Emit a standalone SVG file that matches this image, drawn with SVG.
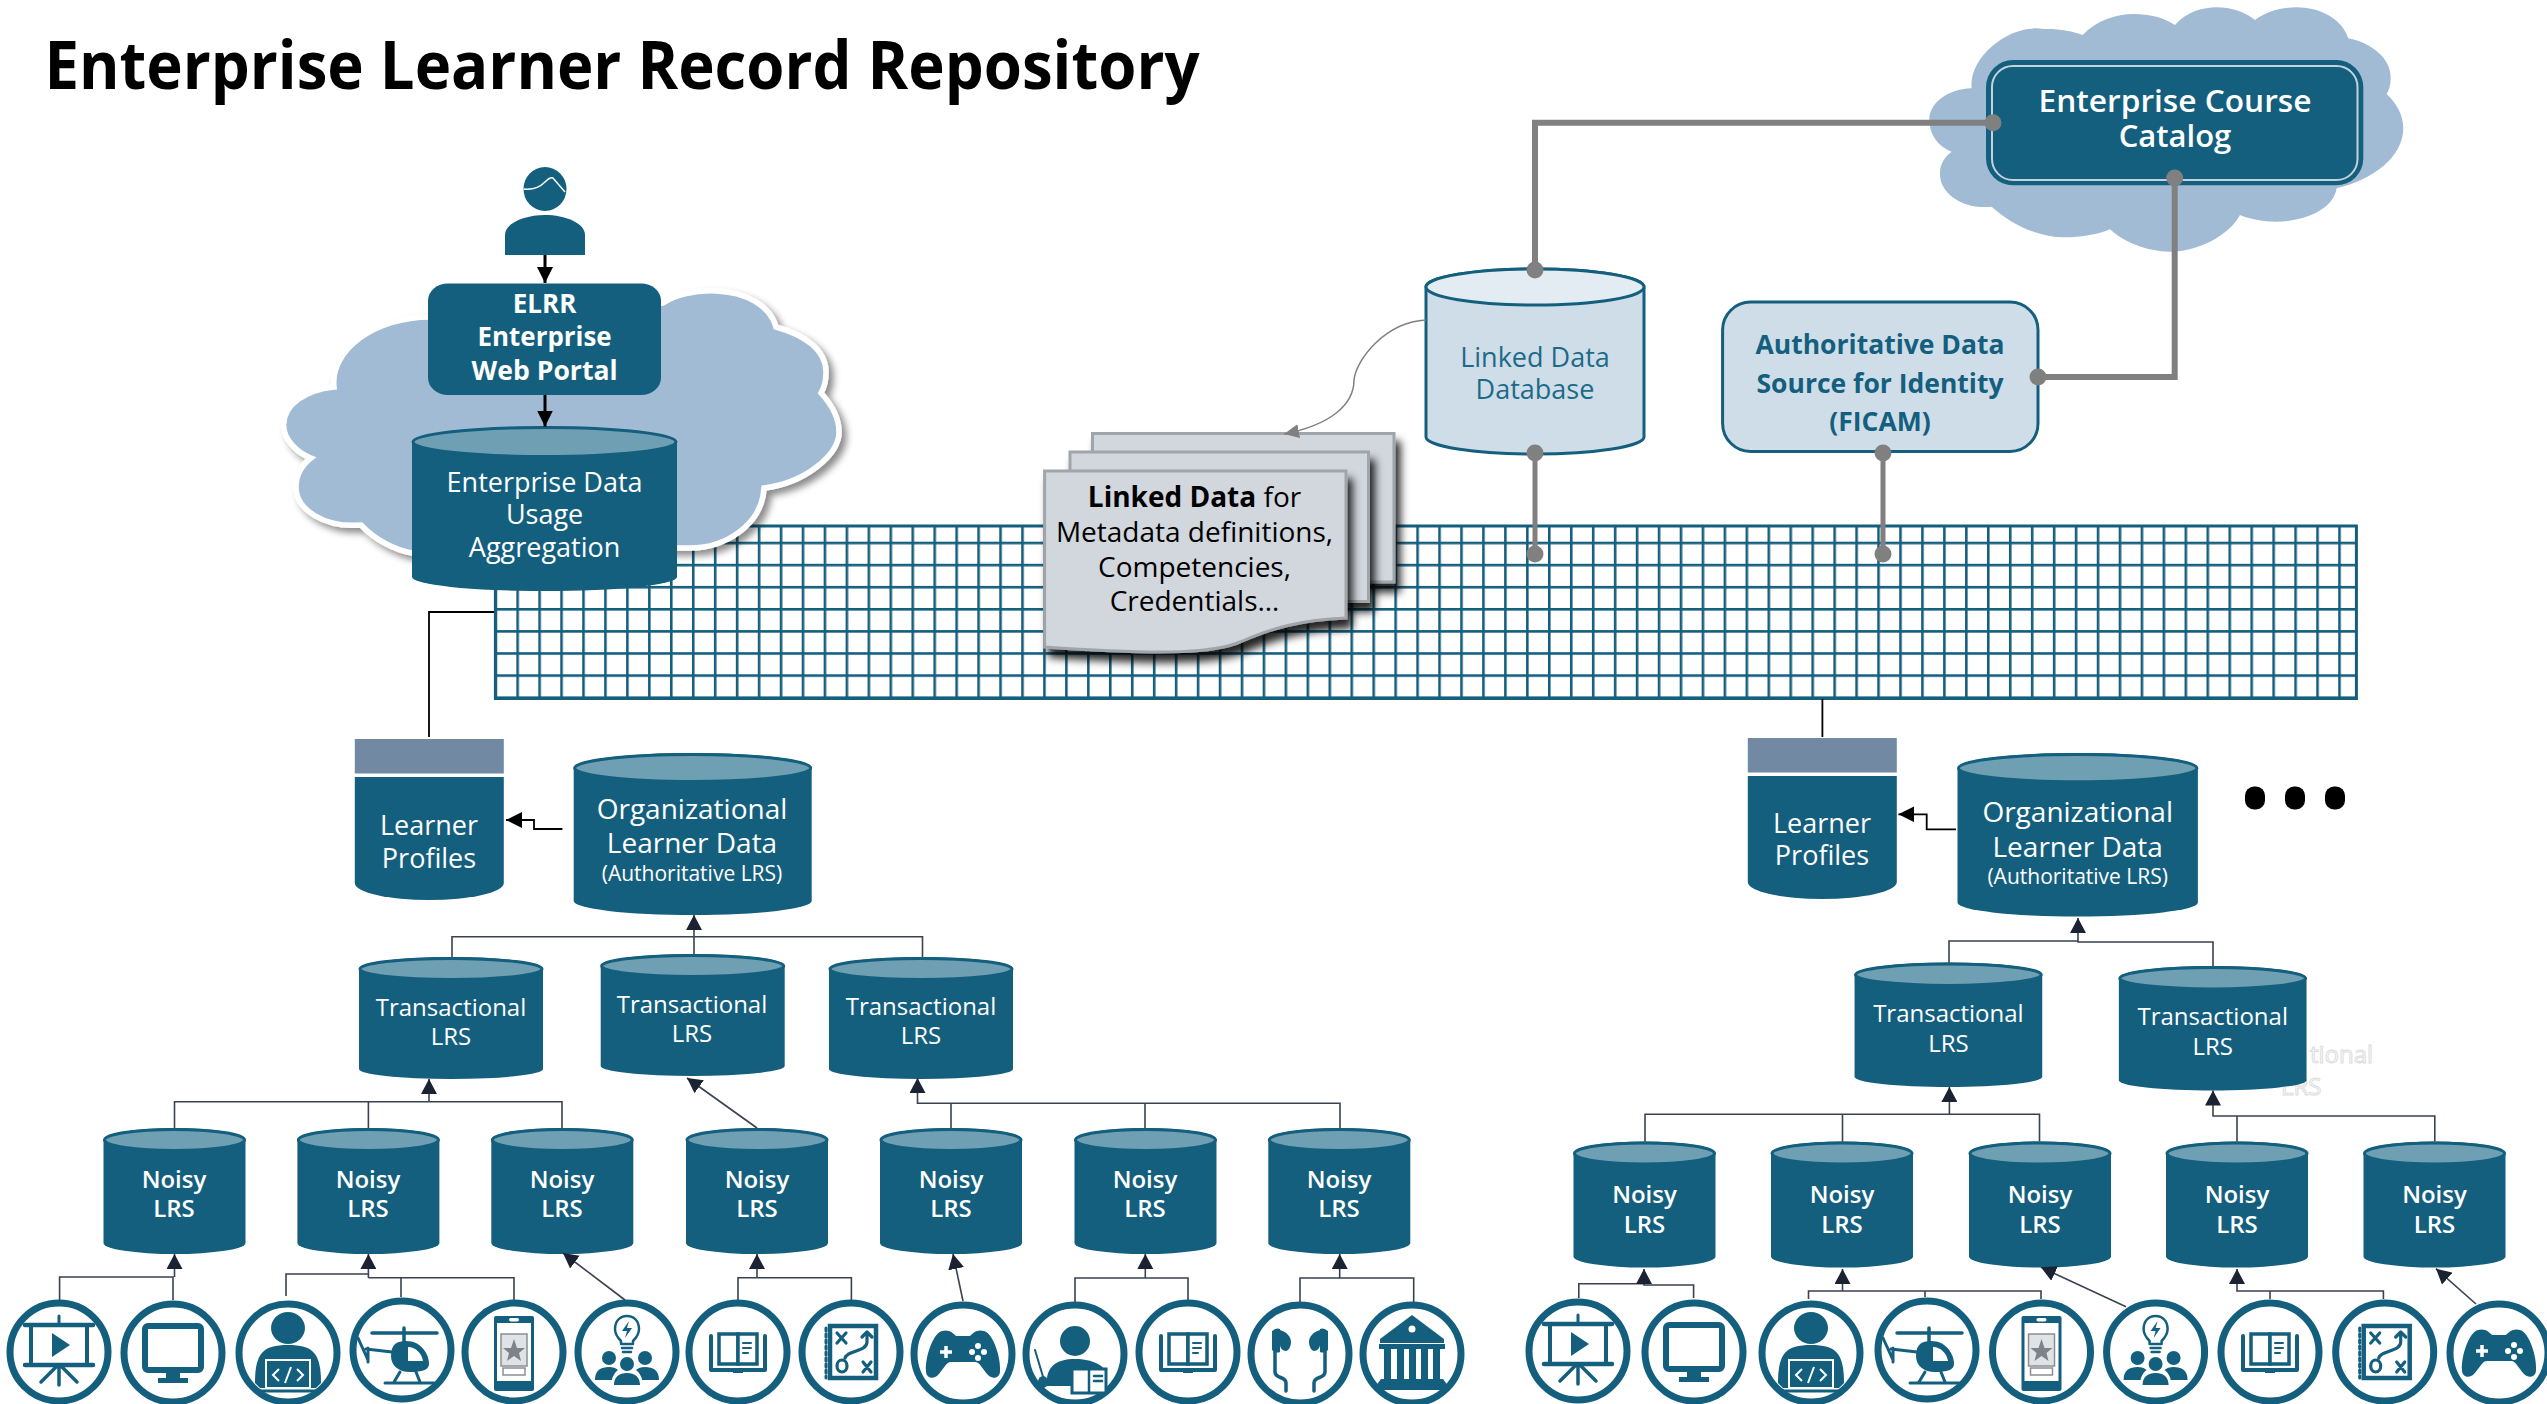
<svg xmlns="http://www.w3.org/2000/svg" xmlns:xlink="http://www.w3.org/1999/xlink" width="2547" height="1404" viewBox="0 0 2547 1404">
<style>
text{font-family:"Open Sans","Noto Sans","Liberation Sans",sans-serif;text-anchor:middle}
.w{fill:#fff}.f24{font-size:24px}.f27{font-size:27px}.f28{font-size:28px}.f21{font-size:21px}
.sb{font-weight:600}.b{font-weight:700}
.dk{fill:#145f7e}.top{fill:#6f9fb3;stroke:#145f7e;stroke-width:3}
.th{fill:none;stroke:#3a4250;stroke-width:1.6}
.bk{fill:none;stroke:#000;stroke-width:1.8}
.bk3{fill:none;stroke:#000;stroke-width:3}
.gr{fill:none;stroke:#808080;stroke-width:6}
.gr5{fill:none;stroke:#808080;stroke-width:5}
.dot{fill:#808080}
.ring{fill:#fff;stroke:#145f7e;stroke-width:7}
.is{fill:none;stroke:#145f7e;stroke-linecap:round;stroke-linejoin:round}
.page{fill:#d2d6dd;stroke:#a0a5a9;stroke-width:3}
.ghost{font-size:24px;text-anchor:start;fill:#fff;stroke:#dcdcdc;stroke-width:1}
</style>
<defs>
<filter id="sh1" x="-5%" y="-5%" width="112%" height="115%"><feDropShadow dx="5" dy="5" stdDeviation="3.5" flood-color="#000" flood-opacity=".45"/></filter>
<filter id="sh2" x="-10%" y="-10%" width="125%" height="130%"><feDropShadow dx="5" dy="9" stdDeviation="4" flood-color="#000" flood-opacity=".85"/></filter>
<pattern id="gridp" patternUnits="userSpaceOnUse" x="494.4" y="541.7" width="21.95" height="22.1"><rect width="2.6" height="22.1" fill="#155f7e"/><rect width="21.95" height="2.6" fill="#155f7e"/></pattern>
<marker id="ah" viewBox="0 0 15 16" refX="15" refY="8" markerWidth="15" markerHeight="16" markerUnits="userSpaceOnUse" orient="auto"><path d="M0 0L15 8L0 16Z" fill="#1a2233"/></marker>
<marker id="ahb" viewBox="0 0 16 16" refX="16" refY="8" markerWidth="16" markerHeight="16" markerUnits="userSpaceOnUse" orient="auto"><path d="M0 0L16 8L0 16Z" fill="#000"/></marker>
<marker id="ahg" viewBox="0 0 15 14" refX="15" refY="7" markerWidth="15" markerHeight="14" markerUnits="userSpaceOnUse" orient="auto"><path d="M0 0L15 7L0 14Z" fill="#808080"/></marker>
<path id="cloudp" d="M215 265C205 170 330 70 430 87C470 85 520 93 548 105C590 60 650 42 700 42C760 42 800 58 825 75C860 35 910 22 950 22C1000 22 1040 40 1065 60C1105 30 1150 22 1190 22C1270 22 1330 65 1345 115C1420 130 1475 180 1472 235C1472 255 1468 270 1460 282C1490 310 1510 345 1510 385C1510 470 1420 540 1310 565C1300 630 1210 665 1130 665C1085 665 1050 657 1020 645C985 710 890 755 810 755C740 755 670 725 630 688C590 705 540 712 495 712C410 712 330 670 275 620C190 630 118 580 120 520C120 490 135 470 155 455C115 440 88 405 88 360C88 310 140 268 215 265Z"/>
<g id="cylN"><path class="dk" d="M-71 12A71 12 0 0 1 71 12V115A71 11 0 0 1-71 115Z"/><ellipse class="top" cx="0" cy="12" rx="70" ry="10.5"/></g>
<g id="cylT"><path class="dk" d="M-92 12A92 12 0 0 1 92 12V112A92 10 0 0 1-92 112Z"/><ellipse class="top" cx="0" cy="12" rx="91" ry="10.5"/></g>
<g id="cylO"><path class="dk" d="M-119 15A119 15 0 0 1 119 15V148A119 14 0 0 1-119 148Z"/><ellipse class="top" cx="0" cy="15" rx="118" ry="13.5"/></g>
<g id="prof"><rect x="-74.5" y="0" width="149" height="34.5" fill="#7289a3"/><path class="dk" d="M-74.5 38H74.5V144A74.5 17 0 0 1-74.5 144Z"/></g>
<circle id="ring" class="ring" cx="0" cy="0" r="49"/>
<g id="i-present"><use xlink:href="#ring"/><path class="is" stroke-width="3" d="M0-36V-28"/><path class="is" stroke-width="4.5" d="M-34-27H34M-34 13H34"/><path class="is" stroke-width="4" d="M-28-27V13M28-27V13"/><path class="dk" d="M-7-19L11-7L-7 5Z"/><path class="is" stroke-width="3.5" d="M0 14V33M-2 14L-18 30M2 14L18 30"/></g>
<g id="i-monitor"><use xlink:href="#ring"/><rect x="-28" y="-27" width="56" height="44" rx="3" class="is" stroke-width="6"/><rect x="-7" y="18" width="14" height="9" class="dk"/><rect x="-15" y="25" width="30" height="5" class="dk"/></g>
<g id="i-coder"><use xlink:href="#ring"/><ellipse class="dk" cx="0" cy="-25" rx="17" ry="16"/><path class="dk" d="M-33 30C-33 0-25-8 0-8C25-8 33 0 33 30L28 35H-28Z"/><rect x="-22" y="7" width="44" height="28" class="dk" stroke="#fff" stroke-width="2"/><path d="M-9 16L-15 22L-9 28M9 16L15 22L9 28M3 14L-3 30" fill="none" stroke="#fff" stroke-width="2"/><path class="is" stroke-width="3" d="M-30 38H30"/></g>
<g id="i-heli"><use xlink:href="#ring"/><path class="is" stroke-width="3.5" d="M-30-17H35M2-22V-8"/><path class="dk" d="M-11 6C-11-6-5-9 4-9C20-9 27 5 27 14C27 20 20 22 8 22C-3 22-11 16-11 6Z"/><path d="M6-3C14-3 20 4 21 11H6Z" fill="#fff"/><path class="is" stroke-width="3" d="M-10 2L-36-1M-44-12L-34 10M-34-2V12M-2 22L-8 32M14 22L18 32M-17 33H32"/></g>
<g id="i-phone"><use xlink:href="#ring"/><rect x="-20" y="-36" width="40" height="75" rx="2" class="dk"/><rect x="-17" y="-29" width="34" height="58" fill="#fff"/><rect x="-5" y="-34" width="10" height="3.5" rx="1.7" fill="#fff"/><rect x="-13" y="-18" width="26" height="32" fill="#dfe3e6" stroke="#8a8f94" stroke-width="1.5"/><path fill="#7d8388" d="M0-13L3-4L11-4L5 1L7 9L0 4L-7 9L-5 1L-11-4L-3-4Z"/><rect x="-11" y="16" width="22" height="7" fill="#fff" stroke="#8a8f94" stroke-width="1.5"/></g>
<g id="i-idea"><use xlink:href="#ring"/><path class="is" stroke-width="2.5" d="M-6-11C-10-15-12-19-12-23C-12-31-7-36 0-36C7-36 12-31 12-23C12-19 10-15 6-11V-8H-6Z"/><path class="dk" d="M2-31L-5-21H0L-2-14L5-24H0Z"/><path class="is" stroke-width="2.5" d="M-5-4H5M-4 0H4"/><circle class="dk" cx="-18" cy="6" r="7"/><circle class="dk" cx="18" cy="6" r="7"/><circle class="dk" cx="0" cy="12" r="7"/><path class="dk" d="M-32 28C-32 18-26 15-18 15C-14 15-11 16-9 18C-13 21-15 26-15 28ZM32 28C32 18 26 15 18 15C14 15 11 16 9 18C13 21 15 26 15 28ZM-13 33C-13 25-8 21 0 21C8 21 13 25 13 33Z"/></g>
<g id="i-book"><use xlink:href="#ring"/><path class="is" stroke-width="4" d="M-27-16V18H27V-16"/><path class="dk" d="M-5 18H5V21H-5Z"/><rect x="-19" y="-18" width="19" height="30" fill="#fff" stroke="#145f7e" stroke-width="3.5"/><rect x="0" y="-18" width="19" height="30" fill="#fff" stroke="#145f7e" stroke-width="3.5"/><path class="is" stroke-width="2" d="M5-9H13M5-4H13M5 1H10"/></g>
<g id="i-play"><use xlink:href="#ring"/><rect x="-21" y="-26" width="46" height="52" fill="#fff" stroke="#145f7e" stroke-width="4.5"/><path class="is" stroke-width="3" stroke-dasharray="3 3" d="M-25-24V26"/><path class="is" stroke-width="3.2" d="M-14-19L-5-9M-5-19L-14-9M12 20L20 10M12 10L20 20M16-10V-20M11-15L16-20L21-15M16-10C16 0-4-2-6 6"/><ellipse class="is" stroke-width="3.2" cx="-9" cy="14" rx="5" ry="6"/></g>
<g id="i-game"><use xlink:href="#ring"/><path class="dk" d="M-21-23C-14-25-10-21-7-18H7C10-21 14-25 21-23C31-20 38 5 37 17C37 24 30 26 25 21C20 16 17 8 12 8H-12C-17 8-20 16-25 21C-30 26-37 24-37 17C-38 5-31-20-21-23Z"/><path d="M-17-8V4M-23-2H-11" stroke="#fff" stroke-width="3.5" fill="none"/><g fill="#fff"><circle cx="15" cy="-8" r="3"/><circle cx="15" cy="4" r="3"/><circle cx="9" cy="-2" r="3"/><circle cx="21" cy="-2" r="3"/></g></g>
<g id="i-teach"><use xlink:href="#ring"/><ellipse class="dk" cx="0" cy="-13" rx="15" ry="15"/><path class="dk" d="M-28 32C-30 12-18 5 0 5C18 5 30 12 32 20V32Z"/><path class="is" stroke-width="2" d="M-40-4L-31 26"/><ellipse class="dk" cx="-32" cy="28" rx="5" ry="6"/><rect x="-3" y="15" width="34" height="24" fill="#fff" stroke="#145f7e" stroke-width="3"/><path class="is" stroke-width="2.5" d="M14 15V39M19 22H27M19 27H27"/></g>
<g id="i-phones"><use xlink:href="#ring"/><path class="dk" d="M-28-23C-24-26-22-26-20-25V-2C-22-1-24-1-28-4ZM-20-24C-13-22-9-17-9-12C-9-7-12-3-14-3C-17-3-20-6-20-9ZM28-23C24-26 22-26 20-25V-2C22-1 24-1 28-4ZM20-24C13-22 9-17 9-12C9-7 12-3 14-3C17-3 20-6 20-9Z"/><path class="is" stroke-width="3.5" d="M-25-3V18C-25 25-14 22-14 29V37M25-3V18C25 25 14 22 14 29V37"/></g>
<g id="i-bank"><use xlink:href="#ring"/><path class="dk" d="M0-39L32-15V-11H-32V-15Z"/><circle cx="0" cy="-25" r="3.5" fill="#fff"/><rect x="-33" y="-10" width="66" height="5" class="dk"/><g class="dk"><rect x="-28" y="-5" width="7" height="30"/><rect x="-15" y="-5" width="7" height="30"/><rect x="-3" y="-5" width="7" height="30"/><rect x="9" y="-5" width="7" height="30"/><rect x="21" y="-5" width="7" height="30"/></g><path class="dk" d="M-31 25H31L37 33V36H-37V33Z"/></g>
</defs>

<rect width="2547" height="1404" fill="#fff"/>
<text id="title" x="622" y="89" font-size="66" class="b" textLength="1155" lengthAdjust="spacingAndGlyphs">Enterprise Learner Record Repository</text>

<g id="backbone-grid">
<rect x="494.4" y="526" width="1862.6" height="172.5" fill="#fff"/>
<rect x="494.4" y="526" width="1862.6" height="172.5" fill="url(#gridp)"/>
<rect x="495.4" y="526" width="1861" height="172.5" fill="none" stroke="#155f7e" stroke-width="3"/>
</g>

<g id="cloud-left" filter="url(#sh1)"><path fill="#a2bbd4" stroke="#fff" stroke-width="5.5" d="M334 387C330 350 375 317 430 317L663 303C675 295 695 290 716 291C745 292 770 305 776 327C805 335 826 350 826 372C826 380 824 388 821 393C832 405 839 418 839 432C839 455 805 483 764 488C762 525 725 548 690 548C640 548 450 540 412 553C395 550 375 540 361 525C325 528 296 510 296 487C296 475 302 465 311 458C295 452 283.6 438 283.6 425C283.6 405 305 390 334 387Z"/></g>
<g id="cloud-right"><use xlink:href="#cloudp" transform="translate(1900 0) scale(.3333)" fill="#a2bbd4"/></g>

<g id="user"><ellipse class="dk" cx="545" cy="189" rx="21.5" ry="22"/><path d="M523.6 189C532 190 540 187 545 182C548 179 551 177 553 178L565 192" fill="none" stroke="#fff" stroke-width="1.5"/><path class="dk" d="M505 255V235C505 223 525 215 545 215C565 215 585 223 585 235V255Z"/></g>
<g id="web-portal"><rect class="dk" x="428" y="283.5" width="233" height="111.5" rx="20" ry="17"/>
<text class="w b" x="544.6" y="313" font-size="26">ELRR</text><text class="w b" x="544.6" y="346" font-size="26" textLength="134" lengthAdjust="spacingAndGlyphs">Enterprise</text><text class="w b" x="544.6" y="380" font-size="26" textLength="146" lengthAdjust="spacingAndGlyphs">Web Portal</text></g>
<g id="usage-aggregation"><path class="dk" d="M412 442A132.5 15.5 0 0 1 677 442V577A132.5 14 0 0 1 412 577Z"/><ellipse class="top" cx="544.5" cy="442" rx="131.5" ry="14.5"/>
<text class="w f27" x="544.6" y="491.5">Enterprise Data</text><text class="w f27" x="544.6" y="524">Usage</text><text class="w f27" x="544.6" y="557">Aggregation</text></g>

<g id="linked-data-docs">
<g filter="url(#sh2)"><rect class="page" x="1092.5" y="433.5" width="301.5" height="148.5"/></g>
<g filter="url(#sh2)"><rect class="page" x="1070" y="452" width="298.5" height="149.5"/></g>
<g filter="url(#sh2)"><path class="page" d="M1044.6 471H1346V618C1300 620 1272 628 1240 642C1215 652 1175 656 1044.6 647Z"/></g>
<text x="1194.5" y="506.5" class="f28"><tspan class="b">Linked Data</tspan> for</text><text x="1194.5" y="541.5" class="f28">Metadata definitions,</text><text x="1194.5" y="577" class="f28">Competencies,</text><text x="1194.5" y="611" class="f28">Credentials…</text></g>

<g id="linked-data-db"><path d="M1426 287A109 18 0 0 1 1644 287V437A109 17 0 0 1 1426 437Z" fill="#cfdde9" stroke="#155f7e" stroke-width="3"/><ellipse cx="1535" cy="287" rx="109" ry="18" fill="#e3ebf3" stroke="#155f7e" stroke-width="3"/>
<text x="1535" y="367" class="f27" fill="#1c6a88">Linked Data</text><text x="1535" y="399" class="f27" fill="#1c6a88">Database</text></g>
<g id="ficam"><rect x="1722.6" y="302" width="315.4" height="149.5" rx="28" fill="#cfdde9" stroke="#155f7e" stroke-width="3"/>
<text x="1880" y="353.5" font-size="26.5" class="b" fill="#145f7e">Authoritative Data</text><text x="1880" y="393" font-size="26.5" class="b" fill="#145f7e">Source for Identity</text><text x="1880" y="431" font-size="26.5" class="b" fill="#145f7e">(FICAM)</text></g>
<g id="course-catalog"><rect class="dk" x="1986" y="60" width="377.3" height="125.3" rx="27"/><rect x="1992" y="66" width="365.5" height="114" rx="21" fill="none" stroke="#c3d2dd" stroke-width="2"/>
<text class="w sb" x="2175" y="112" font-size="31" textLength="273" lengthAdjust="spacingAndGlyphs">Enterprise Course</text><text class="w sb" x="2175" y="147" font-size="31">Catalog</text></g>

<text id="ghost-text" class="ghost" x="2310" y="1063">tional</text>
<text id="ghost-text-2" class="ghost" x="2281" y="1095">LRS</text>

<g id="profiles-left"><use xlink:href="#prof" transform="translate(429.3 739)"/><text class="w f27" x="429" y="835">Learner</text><text class="w f27" x="429" y="867.5">Profiles</text></g>
<g id="profiles-right"><use xlink:href="#prof" transform="translate(1822.3 738)"/><text class="w f27" x="1822" y="832.5">Learner</text><text class="w f27" x="1822" y="865">Profiles</text></g>
<g id="org-left"><use xlink:href="#cylO" transform="translate(692.7 753)"/><text class="w f28" x="692" y="819">Organizational</text><text class="w f28" x="692" y="853">Learner Data</text><text class="w f21" x="692" y="881">(Authoritative LRS)</text></g>
<g id="org-right"><use xlink:href="#cylO" transform="translate(2077.7 753) scale(1.01 1.01)"/><text class="w f28" x="2077.7" y="822">Organizational</text><text class="w f28" x="2077.7" y="857">Learner Data</text><text class="w f21" x="2077.7" y="884">(Authoritative LRS)</text></g>

<g id="trans-l1"><use xlink:href="#cylT" transform="translate(451 957)"/><text class="w f24" x="451" y="1016">Transactional</text><text class="w f24" x="451" y="1045">LRS</text></g>
<g id="trans-l2"><use xlink:href="#cylT" transform="translate(692.7 954)"/><text class="w f24" x="692" y="1012.5">Transactional</text><text class="w f24" x="692" y="1041.5">LRS</text></g>
<g id="trans-l3"><use xlink:href="#cylT" transform="translate(921 957)"/><text class="w f24" x="921" y="1015">Transactional</text><text class="w f24" x="921" y="1044">LRS</text></g>
<g id="trans-r1"><use xlink:href="#cylT" transform="translate(1948.4 962.5) scale(1.02 1.02)"/><text class="w f24" x="1948.4" y="1022">Transactional</text><text class="w f24" x="1948.4" y="1051.5">LRS</text></g>
<g id="trans-r2"><use xlink:href="#cylT" transform="translate(2212.7 966) scale(1.02 1.02)"/><text class="w f24" x="2212.7" y="1025">Transactional</text><text class="w f24" x="2212.7" y="1055">LRS</text></g>

<g id="noisy-l1"><use xlink:href="#cylN" x="174.5" y="1128"/><text class="w f24 sb" x="174" y="1188">Noisy</text><text class="w f24 sb" x="174" y="1217">LRS</text></g>
<g id="noisy-l2"><use xlink:href="#cylN" x="368.4" y="1128"/><text class="w f24 sb" x="368" y="1188">Noisy</text><text class="w f24 sb" x="368" y="1217">LRS</text></g>
<g id="noisy-l3"><use xlink:href="#cylN" x="562.3" y="1128"/><text class="w f24 sb" x="562" y="1188">Noisy</text><text class="w f24 sb" x="562" y="1217">LRS</text></g>
<g id="noisy-l4"><use xlink:href="#cylN" x="757" y="1128"/><text class="w f24 sb" x="757" y="1188">Noisy</text><text class="w f24 sb" x="757" y="1217">LRS</text></g>
<g id="noisy-l5"><use xlink:href="#cylN" x="951" y="1128"/><text class="w f24 sb" x="951" y="1188">Noisy</text><text class="w f24 sb" x="951" y="1217">LRS</text></g>
<g id="noisy-l6"><use xlink:href="#cylN" x="1145.5" y="1128"/><text class="w f24 sb" x="1145" y="1188">Noisy</text><text class="w f24 sb" x="1145" y="1217">LRS</text></g>
<g id="noisy-l7"><use xlink:href="#cylN" x="1339.3" y="1128"/><text class="w f24 sb" x="1339" y="1188">Noisy</text><text class="w f24 sb" x="1339" y="1217">LRS</text></g>
<g id="noisy-r1"><use xlink:href="#cylN" x="1644.5" y="1141.5"/><text class="w f24 sb" x="1644.5" y="1203">Noisy</text><text class="w f24 sb" x="1644.5" y="1232.5">LRS</text></g>
<g id="noisy-r2"><use xlink:href="#cylN" x="1842" y="1141.5"/><text class="w f24 sb" x="1842" y="1203">Noisy</text><text class="w f24 sb" x="1842" y="1232.5">LRS</text></g>
<g id="noisy-r3"><use xlink:href="#cylN" x="2040" y="1141.5"/><text class="w f24 sb" x="2040" y="1203">Noisy</text><text class="w f24 sb" x="2040" y="1232.5">LRS</text></g>
<g id="noisy-r4"><use xlink:href="#cylN" x="2237" y="1141.5"/><text class="w f24 sb" x="2237" y="1203">Noisy</text><text class="w f24 sb" x="2237" y="1232.5">LRS</text></g>
<g id="noisy-r5"><use xlink:href="#cylN" x="2434.5" y="1141.5"/><text class="w f24 sb" x="2434.5" y="1203">Noisy</text><text class="w f24 sb" x="2434.5" y="1232.5">LRS</text></g>

<g id="src-l1"><use xlink:href="#i-present" x="59" y="1352"/></g>
<g id="src-l2"><use xlink:href="#i-monitor" x="173" y="1353"/></g>
<g id="src-l3"><use xlink:href="#i-coder" x="288" y="1353"/></g>
<g id="src-l4"><use xlink:href="#i-heli" x="402" y="1350"/></g>
<g id="src-l5"><use xlink:href="#i-phone" x="514" y="1352"/></g>
<g id="src-l6"><use xlink:href="#i-idea" x="627" y="1352"/></g>
<g id="src-l7"><use xlink:href="#i-book" x="738" y="1352"/></g>
<g id="src-l8"><use xlink:href="#i-play" x="851" y="1352"/></g>
<g id="src-l9"><use xlink:href="#i-game" x="963" y="1354"/></g>
<g id="src-l10"><use xlink:href="#i-teach" x="1075" y="1354"/></g>
<g id="src-l11"><use xlink:href="#i-book" x="1188" y="1352"/></g>
<g id="src-l12"><use xlink:href="#i-phones" x="1300" y="1354"/></g>
<g id="src-l13"><use xlink:href="#i-bank" x="1412" y="1354"/></g>
<g id="src-r1"><use xlink:href="#i-present" x="1578" y="1351"/></g>
<g id="src-r2"><use xlink:href="#i-monitor" x="1694" y="1352"/></g>
<g id="src-r3"><use xlink:href="#i-coder" x="1811" y="1353"/></g>
<g id="src-r4"><use xlink:href="#i-heli" x="1927" y="1350"/></g>
<g id="src-r5"><use xlink:href="#i-phone" x="2041.5" y="1352"/></g>
<g id="src-r6"><use xlink:href="#i-idea" x="2155.6" y="1352"/></g>
<g id="src-r7"><use xlink:href="#i-book" x="2270" y="1352"/></g>
<g id="src-r8"><use xlink:href="#i-play" x="2384.7" y="1352"/></g>
<g id="src-r9"><use xlink:href="#i-game" x="2499" y="1353"/></g>

<g id="more"><rect x="2245" y="786.5" width="20" height="23" rx="9"/><rect x="2285" y="786.5" width="20" height="23" rx="9"/><rect x="2325" y="786.5" width="20" height="23" rx="9"/></g>

<g id="connectors">
<path class="bk3" d="M545 255V283" marker-end="url(#ahb)"/>
<path class="bk3" d="M545 395V426.5" marker-end="url(#ahb)"/>
<path class="bk" d="M494 612H429V737"/>
<path class="bk" d="M1822.4 699V737"/>
<path class="bk" d="M562.4 829H534V820H506" marker-end="url(#ahb)"/>
<path class="bk" d="M1956 829.3H1926.7V814.3H1898.4" marker-end="url(#ahb)"/>
<path fill="none" stroke="#808080" stroke-width="1.5" d="M1426 320C1385 322 1356 360 1354 380C1354 405 1330 425 1284 434" marker-end="url(#ahg)"/>
<path class="gr" d="M1993 122.7H1535V270"/>
<path class="gr" d="M2174.7 178V377H2038"/>
<path class="gr5" d="M1535 453V554M1883 453V554"/>
<g class="dot"><circle cx="1993" cy="122.7" r="8.5"/><circle cx="1535" cy="270" r="8.5"/><circle cx="2174.7" cy="178" r="8.5"/><circle cx="2038" cy="377" r="8.5"/><circle cx="1535" cy="453" r="8.5"/><circle cx="1535" cy="554" r="8.5"/><circle cx="1883" cy="453" r="8.5"/><circle cx="1883" cy="554" r="8.5"/></g>
<path class="th" d="M452 957V936.7H922.5V957M694 954V915" marker-end="url(#ah)"/>
<path class="th" d="M174.5 1128V1101.7H562V1128M368.4 1128V1101.7M429 1101.7V1079" marker-end="url(#ah)"/>
<path class="th" d="M757 1128L687 1078" marker-end="url(#ah)"/>
<path class="th" d="M951 1128V1103.3M1145 1128V1103.3M1340 1128V1103.3H917.5V1078" marker-end="url(#ah)"/>
<path class="th" d="M59.6 1300V1277H173V1300M174.5 1277V1254" marker-end="url(#ah)"/>
<path class="th" d="M286 1296V1274H368.4M514 1300V1277.7H368.4M401 1297V1277.7M368.4 1278V1254" marker-end="url(#ah)"/>
<path class="th" d="M625 1300L563 1253" marker-end="url(#ah)"/>
<path class="th" d="M738 1300V1277.7H851.4V1300M757 1277.7V1254" marker-end="url(#ah)"/>
<path class="th" d="M963 1301L953 1254" marker-end="url(#ah)"/>
<path class="th" d="M1075 1302V1278H1188V1300M1145.3 1278V1254" marker-end="url(#ah)"/>
<path class="th" d="M1300 1302V1278H1413.7V1302M1339.7 1278V1254" marker-end="url(#ah)"/>
<path class="th" d="M1949.4 1114.3V1087" marker-end="url(#ah)"/>
<path class="th" d="M1645 1141.5V1114.3H2039.5V1141.5M1842.5 1141.5V1114.3"/>
<path class="th" d="M2237 1141.5V1116M2434.8 1141.5V1116H2213V1090.5" marker-end="url(#ah)"/>
<path class="th" d="M1949 962.7V941H2078M2213 966V942H2078V918" marker-end="url(#ah)"/>
<path class="th" d="M1578.8 1298V1283.7H1644M1693.6 1298V1285H1644V1269" marker-end="url(#ah)"/>
<path class="th" d="M1808.5 1299V1291H2041V1299M1925 1297V1291M1842.5 1291V1269" marker-end="url(#ah)"/>
<path class="th" d="M2126 1306.7L2041 1267.3" marker-end="url(#ah)"/>
<path class="th" d="M2270 1299V1291M2383.4 1299V1291H2237V1269" marker-end="url(#ah)"/>
<path class="th" d="M2476 1304L2436 1268.7" marker-end="url(#ah)"/>
</g>
</svg>
